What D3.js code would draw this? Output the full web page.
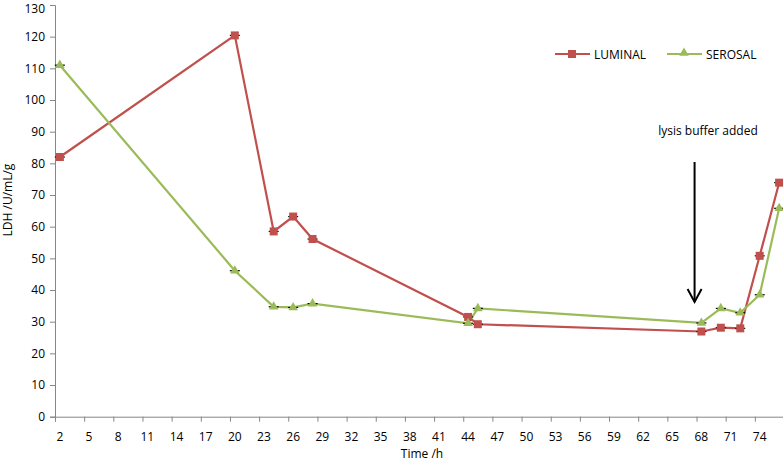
<!DOCTYPE html>
<html><head><meta charset="utf-8">
<script src="https://cdn.jsdelivr.net/npm/d3@7"></script>
<style>body{margin:0;background:#fff;} svg{display:block;} text{font-family:"Open Sans",sans-serif;fill:#000;}</style>
</head><body>
<svg id="c" width="783" height="466"></svg>
<script>
const timesLuminal = [2, 20, 24, 26, 28, 44, 45, 68, 70, 72, 74, 76];
const luminal      = [82, 120.4, 58.5, 63.2, 56.1, 31.5, 29.2, 26.9, 28.1, 27.9, 50.8, 73.9];
const timesSerosal = [2, 20, 24, 26, 28, 44, 45, 68, 70, 72, 74, 76];
const serosal      = [111, 46.1, 34.7, 34.5, 35.7, 29.5, 34.2, 29.6, 34.2, 32.8, 38.5, 65.8];
const xTickLabels  = [2,5,8,11,14,17,20,23,26,29,32,35,38,41,44,47,50,53,56,59,62,65,68,71,74];
const yTicks       = [0,10,20,30,40,50,60,70,80,90,100,110,120,130];
const seriesNames  = ["LUMINAL", "SEROSAL"];
const annotation   = "lysis buffer added";
const arrowTime    = 67.3;

const svg = d3.select("#c");
const x = d3.scaleLinear().domain([1.5, 76.5]).range([55, 784]);
const y = d3.scaleLinear().domain([0, 130]).range([416.7, 5]);
const axisCol = "#868686";
const red = "#C0504D", green = "#9BBB59";

// y axis
const ya = svg.append("g").attr("transform","translate(55,0)")
  .call(d3.axisLeft(y).tickValues(yTicks).tickSize(5).tickPadding(5));
ya.select(".domain").attr("stroke",axisCol);
ya.selectAll(".tick line").attr("stroke",axisCol);
ya.selectAll(".tick text").attr("font-size","12px").attr("fill","#000").attr("font-family","'Open Sans',sans-serif")
  .attr("y", d => d === 130 ? 3.5 : 0);

// x axis: ticks between categories, labels centred on categories
const tickPos = xTickLabels.map(v => v - 0.5).concat([76.5]);
const xa = svg.append("g").attr("transform","translate(0,416.7)")
  .call(d3.axisBottom(x).tickValues(tickPos).tickSize(5).tickFormat(""));
xa.select(".domain").attr("stroke",axisCol);
xa.selectAll(".tick line").attr("stroke",axisCol);
svg.append("g").selectAll("text").data(xTickLabels).join("text")
  .attr("x", d => x(d)).attr("y", 441).attr("text-anchor","middle")
  .attr("font-size","12px").text(d => d);

// axis titles
svg.append("text").attr("x",422).attr("y",458).attr("text-anchor","middle")
  .attr("font-size","12px").text("Time /h");
svg.append("text").attr("transform","translate(12,200) rotate(-90)").attr("text-anchor","middle")
  .attr("font-size","12px").text("LDH /U/mL/g");

const line = d3.line().x(d => x(d[0])).y(d => y(d[1]));
const lum = timesLuminal.map((t,i) => [t, luminal[i]]);
const ser = timesSerosal.map((t,i) => [t, serosal[i]]);

svg.append("path").datum(lum).attr("d",line).attr("fill","none").attr("stroke",red).attr("stroke-width",2.2);
svg.append("path").datum(ser).attr("d",line).attr("fill","none").attr("stroke",green).attr("stroke-width",2.2);

// tiny error bars
[lum, ser].forEach(s => {
  svg.append("g").selectAll("line").data(s).join("line")
    .attr("x1", d => x(d[0]) - 5).attr("x2", d => x(d[0]) + 5)
    .attr("y1", d => y(d[1])).attr("y2", d => y(d[1]))
    .attr("stroke","#000").attr("stroke-width",1.2);
});

const tri = d3.symbol().type(d3.symbolTriangle).size(40);
svg.append("g").selectAll("rect").data(lum).join("rect")
  .attr("x", d => x(d[0]) - 4).attr("y", d => y(d[1]) - 4).attr("width",8).attr("height",8)
  .attr("fill",red);
svg.append("g").selectAll("path").data(ser).join("path")
  .attr("d", tri).attr("transform", d => `translate(${x(d[0])},${y(d[1])})`).attr("fill",green);

// legend
const lg = svg.append("g");
lg.append("line").attr("x1",555).attr("x2",590).attr("y1",54).attr("y2",54).attr("stroke",red).attr("stroke-width",2.2);
lg.append("rect").attr("x",568).attr("y",50).attr("width",8).attr("height",8).attr("fill",red);
lg.append("text").attr("x",594).attr("y",58.5).attr("font-size","12px").text(seriesNames[0]);
lg.append("line").attr("x1",667).attr("x2",702).attr("y1",54).attr("y2",54).attr("stroke",green).attr("stroke-width",2.2);
lg.append("path").attr("d",tri).attr("transform","translate(684,53)").attr("fill",green);
lg.append("text").attr("x",706).attr("y",58.5).attr("font-size","12px").text(seriesNames[1]);

// annotation
svg.append("text").attr("x",708).attr("y",135).attr("text-anchor","middle").attr("font-size","12px").text(annotation);
const ax = x(arrowTime);
svg.append("line").attr("x1",ax).attr("x2",ax).attr("y1",162).attr("y2",302).attr("stroke","#000").attr("stroke-width",2);
svg.append("path").attr("d",`M${ax-7},${289} L${ax},${302} L${ax+7},${289}`).attr("fill","none").attr("stroke","#000").attr("stroke-width",2);
</script>
</body></html>
